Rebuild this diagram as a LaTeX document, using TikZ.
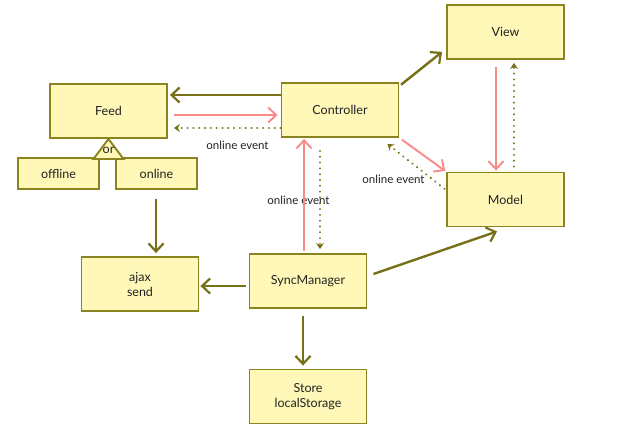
\documentclass[tikz,border=0pt]{standalone}
\usepackage{fontspec}
\setmainfont{Lato}
\usetikzlibrary{arrows.meta}
\definecolor{boxfill}{HTML}{FFF8B8}
\definecolor{boxline}{HTML}{8A8420}
\definecolor{olivec}{HTML}{767018}
\definecolor{pinkc}{HTML}{F88A88}
\definecolor{txt}{HTML}{222222}
\begin{document}
\begin{tikzpicture}[x=1pt,y=-1pt,
  box/.style={draw=boxline, fill=boxfill, line width=1.9pt, minimum width=117pt, minimum height=54pt, inner sep=0pt, align=center, text=txt, font=\fontsize{12.5}{15}\selectfont},
  sbox/.style={box, minimum width=81pt, minimum height=31pt},
  lbl/.style={text=txt, font=\fontsize{11.5}{13}\selectfont, inner sep=1pt},
  oarr/.style={draw=olivec, line width=2.4pt, -{Straight Barb[length=8pt,width=15pt,line width=2.2pt]}},
  parr/.style={draw=pinkc, line width=1.9pt, -{Straight Barb[length=8pt,width=15pt,line width=1.9pt]}},
  darr/.style={draw=olivec, line width=2.3pt, dash pattern=on 0.01pt off 5.8pt, line cap=round, -{Stealth[length=6pt,width=8pt,inset=2pt]}}
]
\useasboundingbox (0,0) rectangle (624,436);
\node[box] (feed) at (108.5,111) {Feed};
\node[box] (ctrl) at (340,110) {Controller};
\node[box] (view) at (505.5,32) {View};
\node[box] (model) at (505.5,199.5) {Model};
\node[sbox] (offline) at (58.5,173.5) {offline};
\node[sbox] (online) at (156.5,173.5) {online};
\node[box] (ajax) at (140,284) {ajax\\send};
\node[box] (sync) at (308,281) {SyncManager};
\node[box] (store) at (308,396.5) {Store\\localStorage};
% or triangle
\draw[draw=boxline, fill=boxfill, line width=1.9pt, line join=miter] (feed.south) -- ++(-15,20) -- ++(30,0) -- cycle;
\node[lbl, font=\fontsize{12.5}{14}\selectfont] (ortxt) at (108.5,150.5) {or};
% labels
\node[lbl] (l1) at (237.5,145) {online event};
\node[lbl] (l2) at (393.5,179) {online event};
\node[lbl] (l3) at (298.5,200) {online event};
% arrows
\draw[oarr, shorten >=2pt] ([yshift=15pt]ctrl.west) -- ([yshift=16pt]feed.east);
\draw[parr, shorten <=6pt, shorten >=3pt] ([yshift=-4pt]feed.east) -- ([yshift=-5pt]ctrl.west);
\draw[darr, shorten >=6pt] ([yshift=-18pt]ctrl.west) -- ([yshift=-17pt]feed.east);
\draw[oarr, shorten <=2pt] ([yshift=24pt]ctrl.east) -- ([xshift=-4pt,yshift=8pt]view.south west);
\draw[parr, shorten <=3pt, shorten >=1pt] (ctrl.south east) -- (model.north west);
\draw[darr, shorten <=2pt] ([yshift=9.5pt]model.west) -- ([xshift=-12pt,yshift=-6pt]ctrl.south east);
\draw[parr, shorten <=7pt, shorten >=1pt] ([xshift=-9.5pt]view.south) -- ([xshift=-9.5pt]model.north);
\draw[darr, shorten <=5pt, shorten >=3pt] ([xshift=8.5pt]model.north) -- ([xshift=8.5pt]view.south);
\draw[parr, shorten <=2pt, shorten >=1pt] ([xshift=-4pt]sync.north) -- ([xshift=-36pt]ctrl.south);
\draw[darr, shorten <=13pt, shorten >=4pt] ([xshift=-20pt]ctrl.south) -- ([xshift=12pt]sync.north);
\draw[oarr, shorten >=0pt] ([xshift=6pt,yshift=7pt]sync.east) -- ([xshift=-8.5pt,yshift=-4pt]model.south);
\draw[oarr, shorten <=3pt, shorten >=1pt] ([yshift=-5pt]sync.west) -- ([yshift=-2pt]ajax.east);
\draw[oarr, shorten <=7pt, shorten >=3pt] ([xshift=-5pt]sync.south) -- ([xshift=-5pt]store.north);
\draw[oarr, shorten <=9pt, shorten >=3pt] ([xshift=-0.5pt]online.south) -- ([xshift=16pt]ajax.north);
\end{tikzpicture}
\end{document}
